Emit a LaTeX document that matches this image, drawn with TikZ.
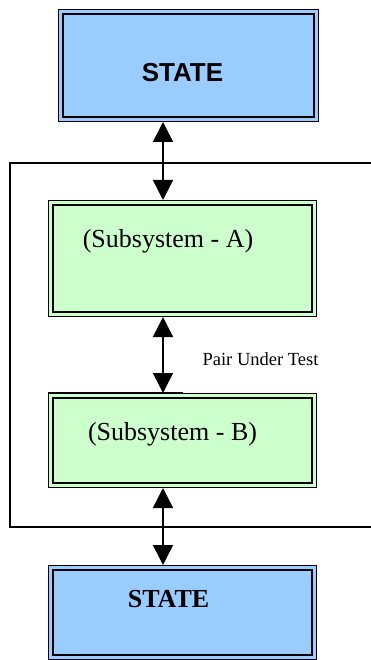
\documentclass[tikz,border=0pt]{standalone}
\usepackage{fontspec}
\setmainfont{Liberation Serif}
\newfontfamily\headsans{Liberation Sans}
\usetikzlibrary{arrows.meta}

\definecolor{stateblue}{HTML}{99CCFF}
\definecolor{subgreen}{HTML}{CCFFCC}

\tikzset{
  dblbox/.style={draw=black, line width=1.4pt, double distance=2.8pt,
    inner sep=0pt, outer sep=2.8pt},
  statebox/.style={dblbox, fill=stateblue, double=stateblue},
  subbox/.style={dblbox, fill=subgreen, double=subgreen},
  label text/.style={inner sep=0pt, anchor=base},
  link/.style={line width=1.5pt,
    {Triangle[width=20pt,length=20pt]}-{Triangle[width=20pt,length=20pt]}},
  frame/.style={line width=1.5pt}
}

\begin{document}
\begin{tikzpicture}[x=1pt, y=-1pt]
  \useasboundingbox (0,0) rectangle (370,660);

  % surrounding frame of the pair under test (open to the right)
  \draw[frame] (10,163) rectangle (385,527);

  % boxes
  \node[statebox, minimum width=255.4pt, minimum height=107.4pt] (stateTop) at (188.5,65.5) {};
  \node[subbox,   minimum width=263.4pt, minimum height=111.4pt] (subA) at (182.5,258.5) {};
  \node[subbox,   minimum width=263.4pt, minimum height=89.4pt]  (subB) at (182.5,440.5) {};
  \node[statebox, minimum width=263.4pt, minimum height=89.4pt]  (stateBot) at (182.5,612.5) {};

  % texts
  \node[label text] (tTop) at (182.5,82) {\headsans\fontsize{26}{30}\selectfont\bfseries STATE};
  \node[label text] (tA) at (168,247) {\fontsize{26}{30}\selectfont (Subsystem - A)};
  \node[label text] (tPair) at (260.5,365) {\fontsize{18.5}{22}\selectfont Pair Under Test};
  \node[label text] (tB) at (172.5,440) {\fontsize{26}{30}\selectfont (Subsystem - B)};
  \node[label text] (tBot) at (168.5,607) {\fontsize{26}{30}\selectfont\bfseries STATE};

  % vertical links
  \coordinate (ax) at (163,0);
  \draw[link] (stateTop.south -| ax) -- (subA.north -| ax);
  \draw[link] (subA.south -| ax) -- (subB.north -| ax);
  \draw[link] (subB.south -| ax) -- (stateBot.north -| ax);

  % short rule on top of subsystem B
  \coordinate (stubEnd) at (183,392);
  \draw[line width=0.8pt] (subB.north west |- stubEnd) -- (stubEnd);
\end{tikzpicture}
\end{document}
